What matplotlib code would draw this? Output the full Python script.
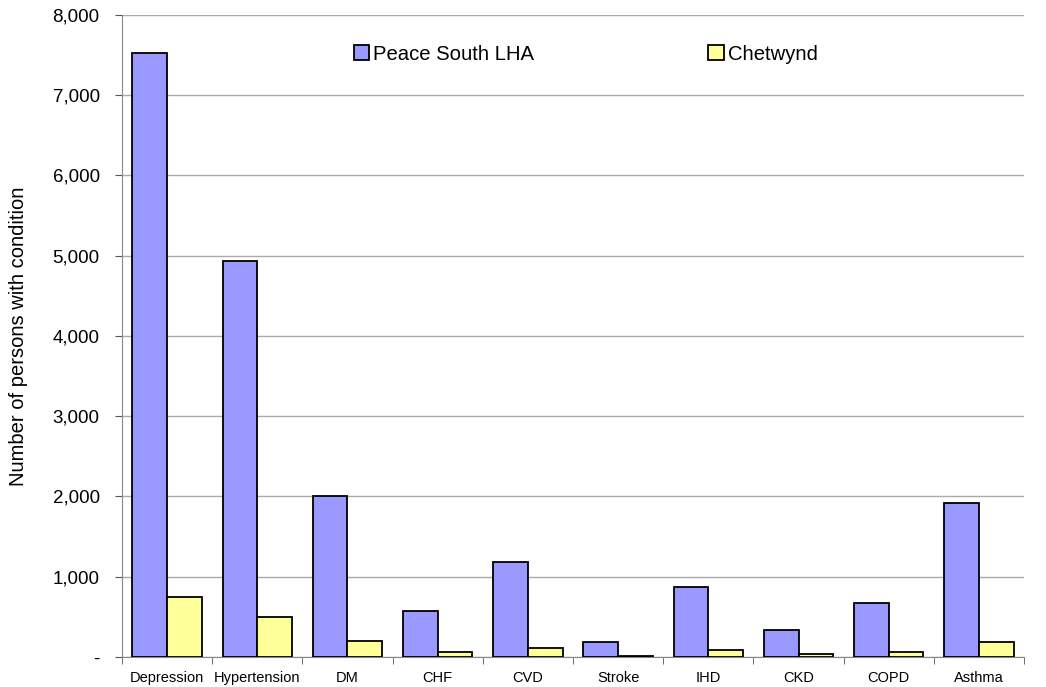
import numpy as np
import matplotlib
matplotlib.use("Agg")
import matplotlib.pyplot as plt
from matplotlib.ticker import FuncFormatter

plt.rcParams['font.family'] = ['Liberation Sans', 'DejaVu Sans']

conditions = ['Depression', 'Hypertension', 'DM', 'CHF', 'CVD',
              'Stroke', 'IHD', 'CKD', 'COPD', 'Asthma']
peace_south = [7525, 4935, 2005, 569, 1183, 187, 875, 332, 668, 1914]
chetwynd = [751, 494, 203, 58, 116, 12, 91, 34, 66, 190]

fig = plt.figure(figsize=(10.46, 6.87), dpi=100)
ax = fig.add_axes([0.1166, 0.0437, 0.979 - 0.1166, 0.9786 - 0.0437])

x = np.arange(len(conditions))
w = 0.385
ax.bar(x - w / 2, peace_south, w, color='#9999FF', edgecolor='black',
       linewidth=1.3, label='Peace South LHA', zorder=3)
ax.bar(x + w / 2, chetwynd, w, color='#FFFF99', edgecolor='black',
       linewidth=1.3, label='Chetwynd', zorder=3)

ax.set_xlim(-0.5, len(conditions) - 0.5)
ax.set_ylim(0, 8000)
ax.set_yticks(np.arange(0, 8001, 1000))
ax.yaxis.set_major_formatter(FuncFormatter(lambda v, p: '-' if v == 0 else f'{int(v):,}'))
ax.yaxis.grid(True, color='#aaaaaa', linewidth=1, zorder=0)

ax.set_xticks(x)
ax.set_xticklabels(conditions, fontsize=10.5)
ax.set_xticks(np.arange(-0.5, len(conditions), 1), minor=True)
ax.tick_params(axis='x', which='major', length=0, pad=10)
ax.tick_params(axis='x', which='minor', length=5, color='#555555')
ax.tick_params(axis='y', length=5, color='#555555', labelsize=13.5, pad=11)

for s in ['top', 'right']:
    ax.spines[s].set_visible(False)
ax.spines['left'].set_color('#888888')
ax.spines['bottom'].set_color('#888888')

ax.set_ylabel('Number of persons with condition', fontsize=14.5, labelpad=18)

ax.legend(loc='upper left', bbox_to_anchor=(0.248, 0.966), ncol=2, frameon=False,
          fontsize=14.6, handlelength=0.75, handleheight=0.75, handletextpad=0.2,
          columnspacing=8.6, borderaxespad=0)

fig.savefig('out.png', dpi=100)
